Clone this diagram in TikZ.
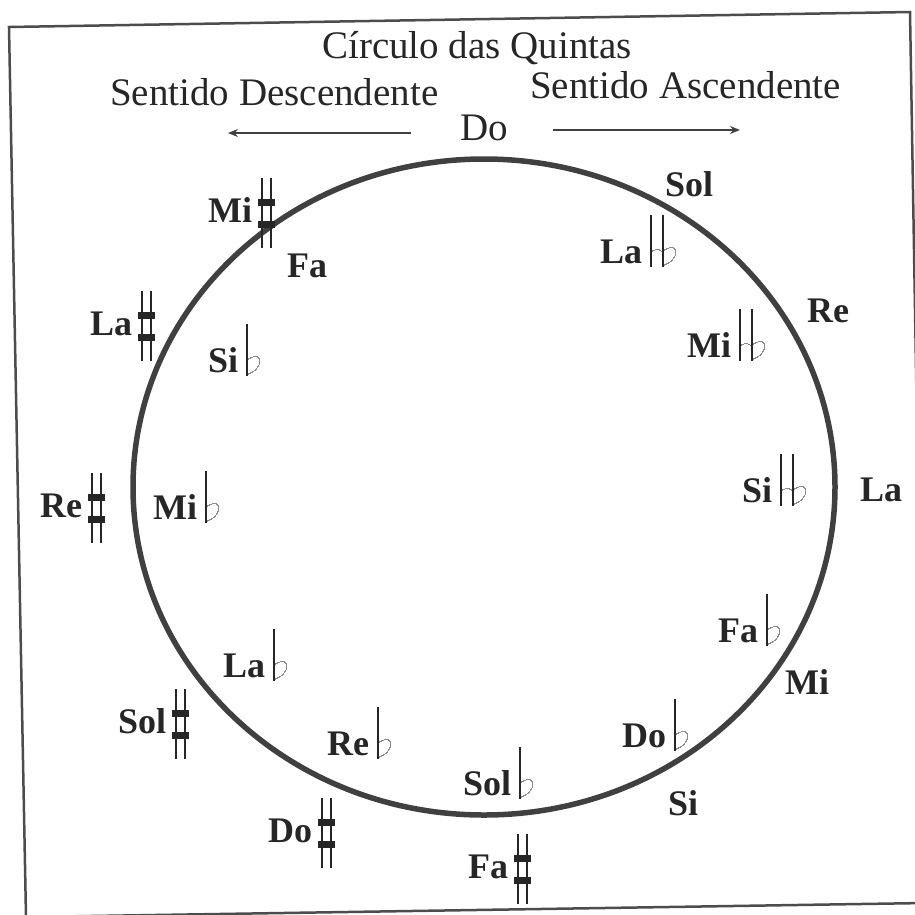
\documentclass[tikz,border=0pt]{standalone}
\usepackage{fontspec}
\setmainfont{Liberation Serif}
\usetikzlibrary{arrows.meta}
\newcommand\sustenido{\kern6pt{\setlength\unitlength{1pt}\begin{picture}(17,44)(0,0)
\put(3,-26){\rule{2pt}{70pt}}
\put(12,-26){\rule{2pt}{70pt}}
\put(0,16){\rule{17pt}{7pt}}
\put(0,-6){\rule{17pt}{7pt}}
\end{picture}}}
\newcommand\bemol{\kern8pt{\setlength\unitlength{1pt}\begin{picture}(16,48)(0,0)
\put(0,-4){\rule{1.6pt}{52pt}}
{\color{black!45}\thicklines
\qbezier(2,13)(15,20)(13,8)
\qbezier(13,8)(10,1)(2,-2)}
\end{picture}}}
\newcommand\dobemol{\kern8pt{\setlength\unitlength{1pt}\begin{picture}(28,48)(0,0)
\put(0,-4){\rule{1.6pt}{52pt}}
\put(12,-4){\rule{1.6pt}{52pt}}
{\color{black!45}\thicklines
\qbezier(2,12)(7,15)(11,12)
\qbezier(14,13)(27,20)(25,8)
\qbezier(25,8)(22,1)(14,-2)}
\end{picture}}}
\tikzset{
 nota/.style={anchor=base west,inner sep=0pt,text=black!85,font=\bfseries\fontsize{36}{42}\selectfont},
 titulo/.style={anchor=base west,inner sep=0pt,text=black!85,font=\fontsize{39}{45}\selectfont},
 sentido/.style={-{Stealth[open,length=10pt,width=8pt]},line width=1.6pt,draw=black!75}
}
\begin{document}
\begin{tikzpicture}[x=1pt,y=-1pt]
\useasboundingbox (0,0) rectangle (915,914);
\clip (0,0) rectangle (915,914);
\draw[line width=2.5pt,black!70] (9,27) -- (910,12) -- (925,903) -- (26,917) -- cycle;
\draw[line width=5.5pt,black!75] (484,487) ellipse [x radius=351,y radius=328];
\node[titulo] (circulo) at (322,58) {Círculo das Quintas};
\node[titulo] (descendente) at (110,105) {Sentido Descendente};
\node[titulo] (ascendente) at (530,98) {Sentido Ascendente};
\node[titulo] (do) at (460,140) {Do};
\coordinate (descIni) at (411,133);
\coordinate (descFim) at (228,133);
\coordinate (ascIni) at (553,130);
\coordinate (ascFim) at (740,130);
\draw[sentido] (descIni) -- (descFim);
\draw[sentido] (ascIni) -- (ascFim);
\node[nota] (sol) at (665,196) {Sol};
\node[nota] (re) at (807,322) {Re};
\node[nota] (la) at (860,501) {La};
\node[nota] (mi) at (785,694) {Mi};
\node[nota] (si) at (668,815) {Si};
\node[nota] (fas) at (468,878) {Fa\sustenido};
\node[nota] (dos) at (268,842) {Do\sustenido};
\node[nota] (sols) at (118,733) {Sol\sustenido};
\node[nota] (res) at (40,517) {Re\sustenido};
\node[nota] (las) at (90,335) {La\sustenido};
\node[nota] (mis) at (208,222) {Mi\sustenido};
\node[nota] (fa) at (287,277) {Fa};
\node[nota] (sib) at (208,372) {Si\bemol};
\node[nota] (mib) at (153,519) {Mi\bemol};
\node[nota] (lab) at (223,677) {La\bemol};
\node[nota] (reb) at (327,755) {Re\bemol};
\node[nota] (solb) at (463,795) {Sol\bemol};
\node[nota] (dob) at (622,747) {Do\bemol};
\node[nota] (fab) at (718,642) {Fa\bemol};
\node[nota] (sibb) at (742,502) {Si\dobemol};
\node[nota] (mibb) at (687,357) {Mi\dobemol};
\node[nota] (labb) at (600,263) {La\dobemol};
\end{tikzpicture}
\end{document}
